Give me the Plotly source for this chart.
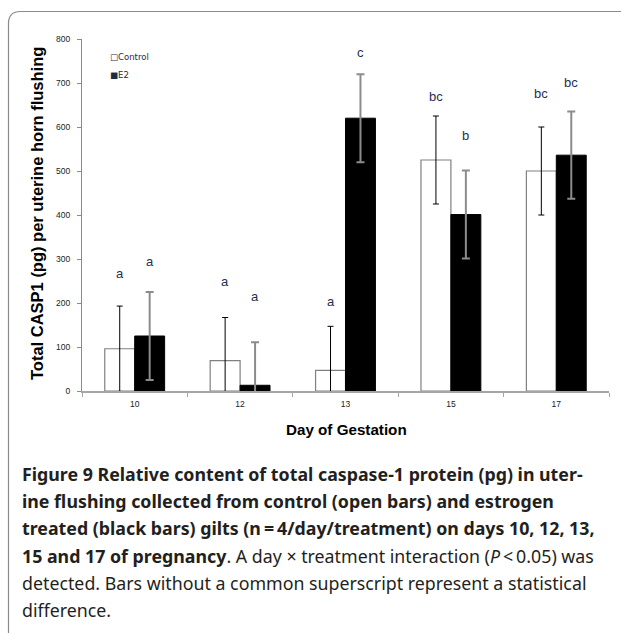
import plotly.graph_objects as go

days = ["10", "12", "13", "15", "17"]
control_vals = [96, 69, 47, 525, 500]
control_err = [97, 98, 100, 100, 100]
e2_vals = [125, 13, 620, 401, 536]
e2_err = [100, 98, 100, 100, 99]
control_letters = ["a", "a", "a", "bc", "bc"]
control_letter_y = [268, 248, 203, 670, 676]
e2_letters = ["a", "a", "c", "b", "bc"]
e2_letter_y = [294, 214, 770, 581, 701]
y_ticks = [0, 100, 200, 300, 400, 500, 600, 700, 800]

W, H = 621, 633
L, R, T, B = 82, 12, 39, 242
pw = W - L - R
ph = H - T - B


def px(x):
    return (x - L) / pw


def py(y):
    return (H - B - y) / ph


fig = go.Figure()
fig.add_trace(go.Bar(
    name="Control", x=days, y=control_vals,
    marker=dict(color="white", line=dict(color="#808080", width=1.2)),
    error_y=dict(type="data", array=control_err, symmetric=True,
                 color="#000000", thickness=1, width=3),
))
fig.add_trace(go.Bar(
    name="E2", x=days, y=e2_vals,
    marker=dict(color="black", line=dict(color="black", width=1)),
    error_y=dict(type="data", array=e2_err, symmetric=True,
                 color="#8c8c8c", thickness=2, width=4),
))

ann = []
letter_font = dict(family="Liberation Sans, Arial, sans-serif", size=13, color="#243052")
for i, (t, yv) in enumerate(zip(control_letters, control_letter_y)):
    ann.append(dict(x=i, y=yv, xref="x", yref="y", text=t, showarrow=False,
                    xshift=-15, font=letter_font))
for i, (t, yv) in enumerate(zip(e2_letters, e2_letter_y)):
    ann.append(dict(x=i, y=yv, xref="x", yref="y", text=t, showarrow=False,
                    xshift=15, font=letter_font))

# legend (drawn as text)
leg_font = dict(family="DejaVu Sans, sans-serif", size=8.5, color="#1f2a44")
ann.append(dict(x=px(108), y=py(57), xref="paper", yref="paper", text="□Control",
                showarrow=False, xanchor="left", yanchor="middle", font=leg_font))
ann.append(dict(x=px(108), y=py(75), xref="paper", yref="paper", text="■E2",
                showarrow=False, xanchor="left", yanchor="middle", font=leg_font))

# axis titles
title_font = dict(family="Liberation Sans, Arial, sans-serif", size=16.5, color="black")
ann.append(dict(x=px(37), y=py(214), xref="paper", yref="paper",
                text="<b>Total CASP1 (pg) per uterine horn flushing</b>",
                showarrow=False, textangle=-90, xanchor="center", yanchor="middle",
                font=title_font))
ann.append(dict(x=px(346), y=py(429), xref="paper", yref="paper",
                text="<b>Day of Gestation</b>", showarrow=False,
                xanchor="center", yanchor="middle", font=dict(title_font, size=15.2)))

# caption
cap_lines = [
    "<b>Figure 9 Relative content of total caspase-1 protein (pg) in uter-</b>",
    "<b>ine flushing collected from control (open bars) and estrogen</b>",
    "<b>treated (black bars) gilts (n\u2009=\u20094/day/treatment) on days 10, 12, 13,</b>",
    "<b>15 and 17 of pregnancy</b>. A day × treatment interaction (<i>P</i>\u2009&lt;\u20090.05) was",
    "detected. Bars without a common superscript represent a statistical",
    "difference.",
]
cap_y = [474, 501, 528, 556, 583, 610]
cap_font = dict(family="Noto Sans, Open Sans, sans-serif", size=17.8, color="#231f20")
for line, yy in zip(cap_lines, cap_y):
    ann.append(dict(x=px(20), y=py(yy), xref="paper", yref="paper", text=line,
                    showarrow=False, xanchor="left", yanchor="middle", font=cap_font))

# rounded frame (top-left corner)
x0, y0 = px(8.5), py(11.5)
x1, y1 = px(630), py(640)
rx = 12 / pw
ry = 12 / ph
path = (f"M {x0:.5f},{y1:.5f} L {x0:.5f},{y0 - ry:.5f} "
        f"Q {x0:.5f},{y0:.5f} {x0 + rx:.5f},{y0:.5f} L {x1:.5f},{y0:.5f}")
shapes = [dict(type="path", xref="paper", yref="paper", path=path,
               line=dict(color="#8a8a8a", width=1.2), layer="above")]

tick_font = dict(family="Liberation Sans, Arial, sans-serif", size=8.5, color="#222")
fig.update_layout(
    width=W, height=H,
    margin=dict(l=L, r=R, t=T, b=B),
    paper_bgcolor="white", plot_bgcolor="white",
    barmode="group", bargap=0.432, bargroupgap=0,
    showlegend=False,
    annotations=ann, shapes=shapes,
    xaxis=dict(type="category", range=[-0.5, 4.5], showline=True, linecolor="#a6a6a6",
               linewidth=1.5, ticks="outside", tickson="boundaries", ticklen=4,
               tickcolor="#a6a6a6", tickfont=tick_font, ticklabelstandoff=4,
               showgrid=False, zeroline=False),
    yaxis=dict(range=[0, 800], tickvals=y_ticks, showline=True, linecolor="#8a8a8a",
               linewidth=1, ticks="outside", ticklen=4, tickcolor="#8a8a8a",
               tickfont=tick_font, ticklabelstandoff=5,
               showgrid=False, zeroline=False),
)

fig.write_html("out.html", config={"displayModeBar": False},
               post_script="document.body.style.margin='0';document.body.style.overflow='hidden';")
